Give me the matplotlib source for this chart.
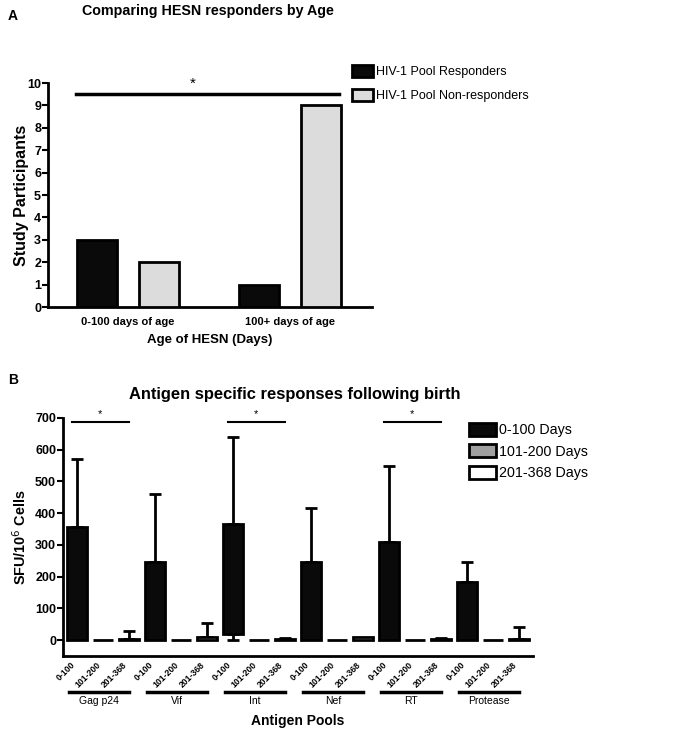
import matplotlib
matplotlib.use('Agg')
import matplotlib.pyplot as plt
from matplotlib.patches import Patch
import numpy as np

plt.rcParams['font.family'] = ['Liberation Sans', 'DejaVu Sans']

#%% data, panel A
age_groups = ['0-100 days of age', '100+ days of age']
responders = [3, 1]
non_responders = [2, 9]
legend_a = ['HIV-1 Pool Responders', 'HIV-1 Pool Non-responders']

#%% data, panel B
antigens = ['Gag p24', 'Vif', 'Int', 'Nef', 'RT', 'Protease']
periods = ['0-100', '101-200', '201-368']
legend_b = ['0-100 Days', '101-200 Days', '201-368 Days']
# box bottom / box top / whisker low / whisker high, one list per period
box_bottom = [[0, 0, 20, 0, 0, 0],
              [0, 0, 0, 0, 0, 0],
              [0, 0, 0, 0, 0, 0]]
box_top = [[355, 247, 367, 247, 310, 182],
           [0, 0, 0, 0, 0, 0],
           [3, 10, 2, 10, 2, 5]]
whisker_low = [[0, 0, 0, 0, 0, 0],
               [0, 0, 0, 0, 0, 0],
               [0, 0, 0, 0, 0, 0]]
whisker_high = [[570, 460, 640, 415, 550, 245],
                [0, 0, 0, 0, 0, 0],
                [30, 55, 8, 10, 8, 40]]
sig_groups = [0, 2, 4]
sig_level = 688

fig = plt.figure(figsize=(6.98, 7.32), dpi=100)
W, H = 698, 732

#%% panel A
axA = fig.add_axes([48/W, 1 - 307/H, 324/W, 224/H])
xg = np.arange(len(age_groups))
axA.bar(xg - 0.19, responders, width=0.25, color='#0a0a0a', edgecolor='black', linewidth=2, zorder=3)
axA.bar(xg + 0.19, non_responders, width=0.25, color='#dcdcdc', edgecolor='black', linewidth=2, zorder=3)
axA.set_xlim(-0.494, 1.506)
axA.set_ylim(0, 10)
axA.set_yticks(range(0, 11))
axA.set_xticks(xg)
axA.set_xticklabels(age_groups, fontweight='bold', fontsize=8)
axA.tick_params(axis='x', length=0, pad=7)
axA.tick_params(axis='y', direction='out', length=4, width=1.5, pad=1, labelsize=9)
for lab in axA.get_yticklabels():
    lab.set_fontweight('bold')
for s in ['top', 'right']:
    axA.spines[s].set_visible(False)
for s in ['left', 'bottom']:
    axA.spines[s].set_linewidth(2)
axA.set_ylabel('Study Participants', fontweight='bold', fontsize=11.5)
axA.yaxis.set_label_coords(-0.06, 0.5)
axA.set_xlabel('Age of HESN (Days)', fontweight='bold', fontsize=9.5, va='center')
axA.xaxis.set_label_coords(0.5, -0.147)
axA.plot([-0.32, 1.30], [9.5, 9.5], color='black', lw=2.5, clip_on=False)
axA.text(0.40, 9.95, '*', ha='center', va='center', fontsize=11)
fig.text(208/W, 1 - 11/H, 'Comparing HESN responders by Age', ha='center', va='center',
         fontweight='bold', fontsize=10.3)
fig.text(13/W, 1 - 16/H, 'A', ha='center', va='center', fontweight='bold', fontsize=10)
hA = [Patch(facecolor='#0a0a0a', edgecolor='black', linewidth=2),
      Patch(facecolor='#dcdcdc', edgecolor='black', linewidth=2)]
fig.legend(hA, legend_a, loc='upper left', bbox_to_anchor=(352/W, 1 - 65/H), frameon=False,
           prop={'size': 9}, handlelength=1.65, handleheight=1.15,
           handletextpad=0.3, labelspacing=0.85, borderpad=0, borderaxespad=0)

#%% panel B
axB = fig.add_axes([63/W, 1 - 656/H, 470/W, 238/H])
fills = ['#0a0a0a', '#a0a0a0', 'white']
npr = len(periods)
xpos_all = []
for j in range(npr):
    x = np.arange(len(antigens)) * npr + j
    xpos_all.append(x)
    bot = np.array(box_bottom[j])
    top = np.array(box_top[j])
    lo = np.array(whisker_low[j])
    hi = np.array(whisker_high[j])
    axB.bar(x, top - bot, bottom=bot, width=0.75, color=fills[j], edgecolor='black',
            linewidth=2, zorder=3)
    up = hi - top
    m = up > 0
    axB.errorbar(x[m], top[m], yerr=[np.zeros(m.sum()), up[m]], fmt='none', ecolor='black',
                 elinewidth=2, capsize=4, capthick=2, zorder=2)
    dn = bot - lo
    m = dn > 0
    axB.errorbar(x[m], bot[m], yerr=[dn[m], np.zeros(m.sum())], fmt='none', ecolor='black',
                 elinewidth=2, capsize=4, capthick=2, zorder=2)

ticks = np.sort(np.concatenate(xpos_all))
axB.set_xticks(ticks)
axB.set_xticklabels(periods * len(antigens), rotation=45, ha='right', fontsize=6.2,
                    fontweight='bold')
axB.tick_params(axis='x', length=0, pad=3)
axB.set_xlim(-0.54, 17.54)
axB.set_ylim(-50, 700)
axB.set_yticks(range(0, 701, 100))
axB.tick_params(axis='y', direction='out', length=4, width=1.5, pad=1, labelsize=9)
for lab in axB.get_yticklabels():
    lab.set_fontweight('bold')
for s in ['top', 'right']:
    axB.spines[s].set_visible(False)
for s in ['left', 'bottom']:
    axB.spines[s].set_linewidth(2)
axB.set_ylabel('SFU/10$^6$ Cells', fontweight='bold', fontsize=10.4)
axB.yaxis.set_label_coords(-0.072, 0.5)
axB.set_xlabel('Antigen Pools', fontweight='bold', fontsize=10, va='center')
axB.xaxis.set_label_coords(0.5, -0.273)

tr = axB.get_xaxis_transform()
for i, ag in enumerate(antigens):
    x0 = i * npr
    axB.plot([x0 - 0.3, x0 + 2.0], [-0.151, -0.151], transform=tr, color='black', lw=2.5,
             clip_on=False)
    axB.text(x0 + 0.85, -0.19, ag, transform=tr, ha='center', va='center', fontsize=7.5)

for g in sig_groups:
    x0 = g * npr
    axB.plot([x0 - 0.2, x0 + 2.0], [sig_level, sig_level], color='black', lw=1.5, clip_on=False)
    axB.text(x0 + 0.9, sig_level + 8, '*', ha='center', va='bottom', fontsize=8)

fig.text(295/W, 1 - 395/H, 'Antigen specific responses following birth', ha='center',
         va='center', fontweight='bold', fontsize=11.9)
fig.text(13/W, 1 - 380/H, 'B', ha='center', va='center', fontweight='bold', fontsize=10)
hB = [Patch(facecolor=f, edgecolor='black', linewidth=2) for f in fills]
fig.legend(hB, legend_b, loc='upper left', bbox_to_anchor=(469/W, 1 - 423/H), frameon=False,
           prop={'size': 10.3}, handlelength=1.9, handleheight=1.0,
           handletextpad=0.2, labelspacing=0.5, borderpad=0, borderaxespad=0)

fig.savefig('out.png', dpi=100)
